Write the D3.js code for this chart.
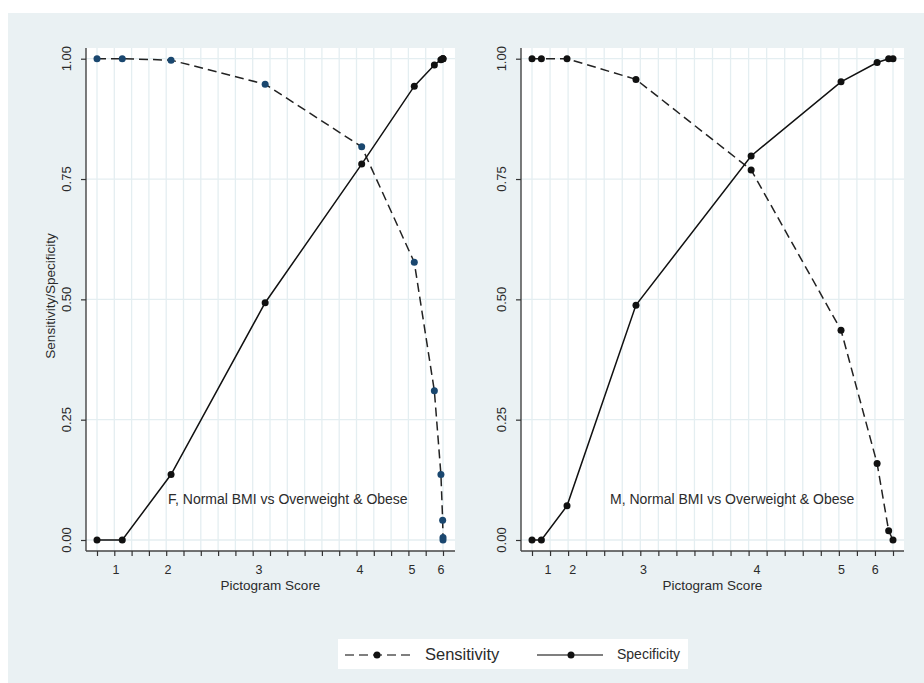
<!DOCTYPE html>
<html lang="en">
<head>
    <meta charset="UTF-8">
    <title>Sensitivity / Specificity by Pictogram Score</title>
    <script src="https://d3js.org/d3.v7.min.js"></script>
    <style>
        body { margin: 0; background: #ffffff; }
        text { font-family: "Liberation Sans", Arial, sans-serif; fill: #2b2b2b; }
    </style>
</head>
<body>
    <svg id="chart" width="924" height="683"></svg>

    <script>
        // Datos: posición acumulada (0-1) de cada punto de corte
        const femaleX    = [0, 0.073, 0.214, 0.486, 0.765, 0.917, 0.975, 0.994, 0.999, 1.0, 1.0];
        const femaleSens = [1, 1, 0.997, 0.947, 0.817, 0.577, 0.310, 0.136, 0.041, 0.005, 0];
        const femaleSpec = [0, 0, 0.136, 0.493, 0.781, 0.943, 0.987, 0.998, 1, 1, 1];

        const maleX    = [0, 0.026, 0.097, 0.288, 0.607, 0.856, 0.956, 0.988, 1.0];
        const maleSens = [1, 1, 1, 0.957, 0.769, 0.436, 0.159, 0.019, 0];
        const maleSpec = [0, 0, 0.071, 0.488, 0.798, 0.952, 0.992, 1, 1];

        const scoreLabels = ["1", "2", "3", "4", "5", "6"];
        const femaleScorePos = [0.055, 0.205, 0.468, 0.760, 0.910, 0.994];
        const maleScorePos   = [0.044, 0.113, 0.309, 0.623, 0.857, 0.951];

        const yTicks = [0, 0.25, 0.5, 0.75, 1];
        const yTickLabels = ["0.00", "0.25", "0.50", "0.75", "1.00"];
        const xGridTicks = d3.range(0, 21).map(i => i / 20);

        const svg = d3.select("#chart");

        // Fondo gris azulado
        svg.append("rect")
            .attr("x", 8).attr("y", 13)
            .attr("width", 916).attr("height", 670)
            .attr("fill", "#eaf1f3");

        const panels = [
            { frame: [86, 455], range: [97, 443], x: femaleX, sens: femaleSens, spec: femaleSpec,
              scorePos: femaleScorePos, note: "F, Normal BMI vs Overweight & Obese", noteX: 168,
              sensColor: "#1a476f", yTitle: true },
            { frame: [521, 904], range: [532, 893], x: maleX, sens: maleSens, spec: maleSpec,
              scorePos: maleScorePos, note: "M, Normal BMI vs Overweight & Obese", noteX: 610,
              sensColor: "#111111", yTitle: false }
        ];

        const plotTop = 48, plotBottom = 551;
        const y = d3.scaleLinear().domain([0, 1]).range([540, 58.7]);

        panels.forEach(p => {
            const x = d3.scaleLinear().domain([0, 1]).range(p.range);
            const g = svg.append("g");

            // Área de trazado blanca
            g.append("rect")
                .attr("x", p.frame[0]).attr("y", plotTop)
                .attr("width", p.frame[1] - p.frame[0]).attr("height", plotBottom - plotTop)
                .attr("fill", "#ffffff");

            // Rejilla
            g.selectAll(".vgrid").data(xGridTicks).join("line")
                .attr("x1", d => x(d)).attr("x2", d => x(d))
                .attr("y1", plotTop).attr("y2", plotBottom)
                .attr("stroke", "#e4eef1").attr("stroke-width", 1.3);
            g.selectAll(".hgrid").data(yTicks).join("line")
                .attr("x1", p.frame[0]).attr("x2", p.frame[1])
                .attr("y1", d => y(d)).attr("y2", d => y(d))
                .attr("stroke", "#e4eef1").attr("stroke-width", 1.3);

            // Ejes
            const xAxis = d3.axisBottom(x).tickValues(xGridTicks).tickFormat("").tickSize(5).tickSizeOuter(0);
            const gx = g.append("g").attr("transform", `translate(0,${plotBottom})`).call(xAxis);
            gx.select(".domain").attr("d", `M${p.frame[0]},0H${p.frame[1]}`);
            gx.selectAll("line").attr("stroke", "#333").attr("stroke-width", 1.2);
            gx.select(".domain").attr("stroke", "#444").attr("stroke-width", 1.4);

            const yAxis = d3.axisLeft(y).tickValues(yTicks).tickFormat("").tickSize(5).tickSizeOuter(0);
            const gy = g.append("g").attr("transform", `translate(${p.frame[0]},0)`).call(yAxis);
            gy.select(".domain").attr("d", `M0,${plotTop}V${plotBottom}`);
            gy.selectAll("line").attr("stroke", "#333").attr("stroke-width", 1.2);
            gy.select(".domain").attr("stroke", "#444").attr("stroke-width", 1.4);

            // Etiquetas del eje y, giradas
            g.selectAll(".ylab").data(yTicks).join("text")
                .attr("transform", d => `translate(${p.frame[0] - 15},${y(d)}) rotate(-90)`)
                .attr("text-anchor", "middle")
                .attr("font-size", "13px")
                .text((d, i) => yTickLabels[i]);

            // Etiquetas de puntuación
            g.selectAll(".score").data(scoreLabels).join("text")
                .attr("x", (d, i) => x(p.scorePos[i]))
                .attr("y", 574)
                .attr("text-anchor", "middle")
                .attr("font-size", "12.5px")
                .text(d => d);

            g.append("text")
                .attr("x", (p.frame[0] + p.frame[1]) / 2)
                .attr("y", 589.5)
                .attr("text-anchor", "middle")
                .attr("font-size", "13.5px")
                .text("Pictogram Score");

            if (p.yTitle) {
                g.append("text")
                    .attr("transform", `translate(55,296) rotate(-90)`)
                    .attr("text-anchor", "middle")
                    .attr("font-size", "13.5px")
                    .text("Sensitivity/Specificity");
            }

            const line = d3.line().x(d => x(d[0])).y(d => y(d[1]));
            const sensPts = p.x.map((v, i) => [v, p.sens[i]]);
            const specPts = p.x.map((v, i) => [v, p.spec[i]]);

            g.append("path").datum(sensPts)
                .attr("d", line).attr("fill", "none")
                .attr("stroke", "#222").attr("stroke-width", 1.5)
                .attr("stroke-dasharray", "9,5");
            g.append("path").datum(specPts)
                .attr("d", line).attr("fill", "none")
                .attr("stroke", "#111").attr("stroke-width", 1.5);

            g.selectAll(".specpt").data(specPts).join("circle")
                .attr("cx", d => x(d[0])).attr("cy", d => y(d[1]))
                .attr("r", 3.5).attr("fill", "#111");
            g.selectAll(".senspt").data(sensPts).join("circle")
                .attr("cx", d => x(d[0])).attr("cy", d => y(d[1]))
                .attr("r", 3.5).attr("fill", p.sensColor);

            g.append("text")
                .attr("x", p.noteX).attr("y", 504)
                .attr("font-size", "14px")
                .text(p.note);
        });

        // Leyenda
        const leg = svg.append("g");
        leg.append("rect")
            .attr("x", 338).attr("y", 639).attr("width", 350).attr("height", 30)
            .attr("fill", "#ffffff");
        leg.append("line")
            .attr("x1", 345).attr("x2", 410).attr("y1", 655).attr("y2", 655)
            .attr("stroke", "#555").attr("stroke-width", 1.5).attr("stroke-dasharray", "9,5");
        leg.append("circle").attr("cx", 377).attr("cy", 655).attr("r", 3.5).attr("fill", "#111");
        leg.append("text").attr("x", 425).attr("y", 660).attr("font-size", "16.5px").text("Sensitivity");
        leg.append("line")
            .attr("x1", 537).attr("x2", 603).attr("y1", 655).attr("y2", 655)
            .attr("stroke", "#555").attr("stroke-width", 1.5);
        leg.append("circle").attr("cx", 571).attr("cy", 655).attr("r", 3.5).attr("fill", "#111");
        leg.append("text").attr("x", 617).attr("y", 659).attr("font-size", "14px").text("Specificity");
    </script>
</body>
</html>
